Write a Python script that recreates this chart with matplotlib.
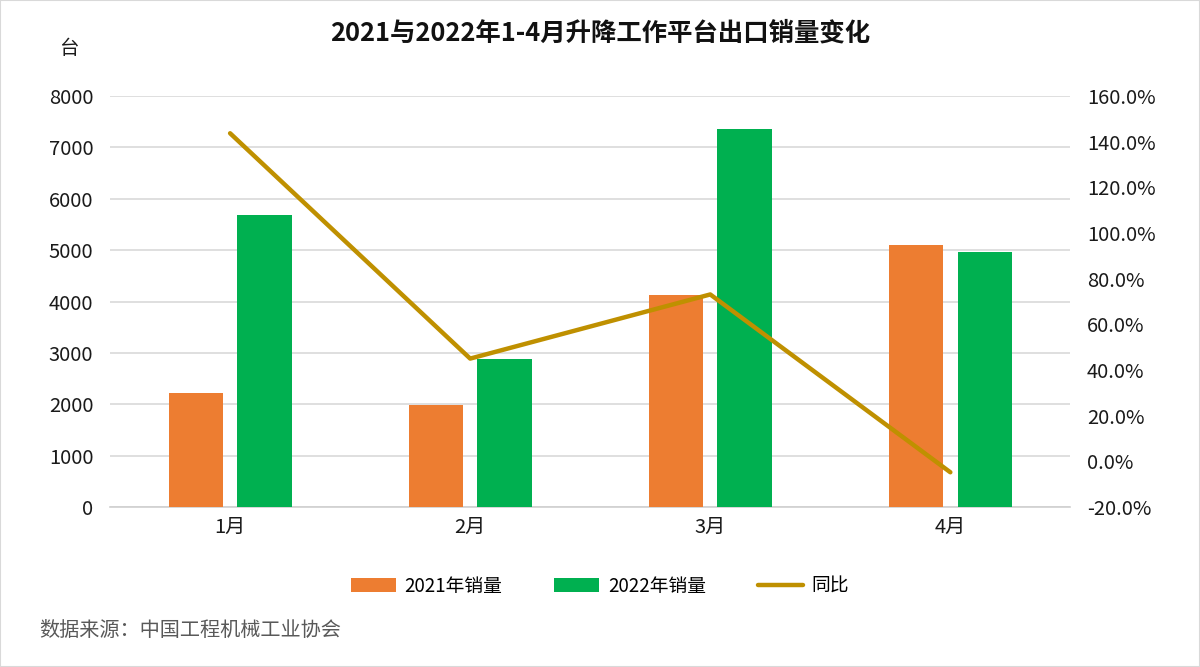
import numpy as np
import matplotlib
matplotlib.use('Agg')
from matplotlib import pyplot as plt
from matplotlib.patches import Rectangle

plt.rcParams['font.family'] = ['Noto Sans CJK SC', 'DejaVu Sans']

months = ['1月', '2月', '3月', '4月']
sales_2021 = [2218, 1992, 4132, 5105]
sales_2022 = [5689, 2873, 7354, 4961]
yoy = [143.7, 45.0, 73.1, -4.8]  # percent

c2021 = '#ED7D31'
c2022 = '#00B050'
cline = '#BF9000'

fig = plt.figure(figsize=(12, 6.67), dpi=100)
ax = fig.add_axes([0.0917, 0.2399, 0.8003, 0.6161])
x = np.arange(len(months))
w = 0.226
b1 = ax.bar(x - 0.143, sales_2021, w, color=c2021, label='2021年销量', zorder=3)
b2 = ax.bar(x + 0.143, sales_2022, w, color=c2022, label='2022年销量', zorder=3)
ax.set_xlim(-0.5, 3.5)
ax.set_ylim(0, 8000)
ax.set_yticks(np.arange(0, 8001, 1000))
ax.set_xticks(x)
ax.set_xticklabels(months)
ax.grid(axis='y', color='#D9D9D9', lw=1.2, zorder=0)
ax.set_axisbelow(True)
for s in ['top', 'right', 'left']:
    ax.spines[s].set_visible(False)
ax.spines['bottom'].set_color('#D0D0D0')
ax.spines['bottom'].set_linewidth(1.2)
ax.tick_params(axis='both', length=0, labelsize=14.5, colors='#1a1a1a')
ax.tick_params(axis='y', pad=12)
ax.tick_params(axis='x', pad=7)

ax2 = ax.twinx()
ln, = ax2.plot(x, yoy, color=cline, lw=3.2, label='同比', zorder=4, solid_capstyle='round')
ax2.set_ylim(-20, 160)
ax2.set_yticks(np.arange(-20, 161, 20))
ax2.set_yticklabels(['%.1f%%' % v for v in np.arange(-20, 161, 20)])
for s in ['top', 'right', 'left', 'bottom']:
    ax2.spines[s].set_visible(False)
ax2.tick_params(axis='y', length=0, labelsize=14.5, colors='#1a1a1a', pad=12)

fig.text(0.5, 0.95, '2021与2022年1-4月升降工作平台出口销量变化', ha='center', va='center',
         fontsize=18.3, fontweight='bold', color='#111111')
fig.text(0.057, 0.928, '台', ha='center', va='center', fontsize=14, color='#1a1a1a')

fig.legend(handles=[b1, b2, ln], loc='center', bbox_to_anchor=(0.5, 0.121), ncol=3,
           frameon=False, fontsize=13.5, handlelength=2.4, handleheight=0.75,
           columnspacing=2.8, handletextpad=0.45)

fig.text(0.033, 0.055, '数据来源：中国工程机械工业协会', ha='left', va='center',
         fontsize=14.5, color='#595959')

fig.patches.append(Rectangle((0, 0), 1, 1, transform=fig.transFigure, fill=False,
                             edgecolor='#D9D9D9', lw=1.5))

fig.savefig('out.png', dpi=100)
